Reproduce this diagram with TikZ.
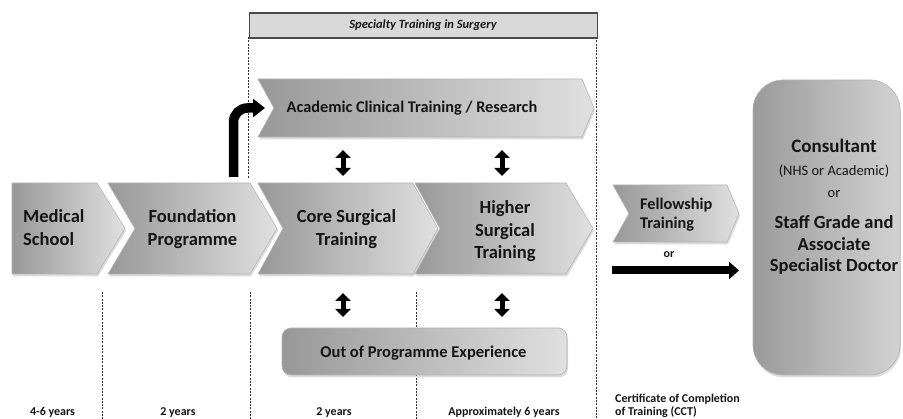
\documentclass[tikz,border=0pt]{standalone}
\usepackage{fontspec}
\setmainfont{Carlito}
\usetikzlibrary{arrows.meta,shadows}

\definecolor{stageDark}{HTML}{989898}
\definecolor{stageLight}{HTML}{E0E0E0}
\definecolor{stageEdge}{HTML}{B4B4B4}
\definecolor{goalDark}{HTML}{9A9A9A}
\definecolor{goalLight}{HTML}{D2D2D2}
\definecolor{headFill}{HTML}{D9D9D9}
\definecolor{headEdge}{HTML}{4A4A4A}
\definecolor{guideGray}{HTML}{333333}
\definecolor{inkText}{HTML}{151515}

\tikzset{
  stageshape/.style={left color=stageDark, right color=stageLight, draw=stageEdge, line width=0.6pt,
    drop shadow={shadow xshift=1pt, shadow yshift=-2.5pt, opacity=0.28}},
  goalshape/.style={left color=goalDark, right color=goalLight, draw=stageEdge, line width=0.6pt,
    drop shadow={shadow xshift=1pt, shadow yshift=-2.5pt, opacity=0.28}},
  guide/.style={draw=guideGray, line width=1pt, dash pattern=on 2pt off 1.3pt},
  bigtxt/.style={font=\bfseries\fontsize{18.5}{22}\selectfont, text=inkText, inner sep=0pt, anchor=base},
  midtxt/.style={font=\bfseries\fontsize{16.3}{19}\selectfont, text=inkText, inner sep=0pt, anchor=base},
  smalltxt/.style={font=\bfseries\fontsize{12}{14}\selectfont, text=inkText, inner sep=0pt, anchor=base},
  plaintxt/.style={font=\fontsize{14.5}{17}\selectfont, text=inkText, inner sep=0pt, anchor=base},
  dblarrow/.style={line width=5pt, {Triangle[width=15pt,length=8pt]}-{Triangle[width=15pt,length=8pt]}},
}

% chevron: left x, body right x, top y, bottom y, notch depth, tip depth
\newcommand{\stagechevron}[6]{%
  \path[stageshape] (#1,#3) -- (#2,#3) -- ({#2+#6},{(#3+#4)/2}) -- (#2,#4) -- (#1,#4) -- ({#1+#5},{(#3+#4)/2}) -- cycle;}

\begin{document}
\begin{tikzpicture}[x=1pt,y=-1pt]
\useasboundingbox (0,0) rectangle (903,419);

% dashed period guides
\draw[guide] (248,37) -- (248,178);
\draw[guide] (596,37) -- (596,419);
\draw[guide] (102,292) -- (102,419);
\draw[guide] (250,292) -- (250,419);
\draw[guide] (416,292) -- (416,419);

% header bar
\node[draw=headEdge, fill=headFill, line width=1.1pt, minimum width=348pt, minimum height=25pt,
      inner sep=0pt, anchor=north west, font=\bfseries\itshape\fontsize{12.5}{15}\selectfont,
      text=inkText] (header) at (248.5,12.5) {Specialty Training in Surgery};

% main training stages
\stagechevron{12}{97}{183}{274}{0}{28}
\stagechevron{108}{250}{183}{274}{27}{27}
\stagechevron{258}{413}{183}{274}{25}{25}
\stagechevron{415}{566}{183}{274}{25}{27}
% academic branch and fellowship
\stagechevron{258}{582}{79}{137}{16}{12}
\stagechevron{613}{727}{185}{242}{16}{12}
% out of programme experience
\path[stageshape, rounded corners=9pt] (282,328) rectangle (567,375);
% career destination
\path[goalshape, rounded corners=30pt] (753,80) rectangle (900,375);

% stage labels
\node[bigtxt, anchor=base west] (med1) at (23,223) {Medical};
\node[bigtxt, anchor=base west] (med2) at (23,246) {School};
\node[bigtxt] (fnd1) at (192.5,223) {Foundation};
\node[bigtxt] (fnd2) at (192.5,246) {Programme};
\node[bigtxt] (core1) at (346.5,223) {Core Surgical};
\node[bigtxt] (core2) at (346.5,246) {Training};
\node[bigtxt] (high1) at (505,214) {Higher};
\node[bigtxt] (high2) at (505,236.5) {Surgical};
\node[bigtxt] (high3) at (505,259) {Training};
\node[midtxt] (acad) at (412,113) {Academic Clinical Training / Research};
\node[midtxt, anchor=base west] (fel1) at (640,210) {Fellowship};
\node[midtxt, anchor=base west] (fel2) at (640,229) {Training};
\node[smalltxt] (felor) at (669,258) {or};
\node[midtxt, font=\bfseries\fontsize{16.5}{19}\selectfont] (oop) at (423.5,358) {Out of Programme Experience};

% destination labels
\node[bigtxt, font=\bfseries\fontsize{19}{22}\selectfont] (cons1) at (834,153) {Consultant};
\node[plaintxt] (cons2) at (834,176) {(NHS or Academic)};
\node[plaintxt] (cons3) at (834,198) {or};
\node[bigtxt] (cons4) at (834,229) {Staff Grade and};
\node[bigtxt] (cons5) at (834,251) {Associate};
\node[bigtxt] (cons6) at (834,272) {Specialist Doctor};

% durations
\node[smalltxt] (dur1) at (52.5,416) {4-6 years};
\node[smalltxt] (dur2) at (178,416) {2 years};
\node[smalltxt] (dur3) at (334,416) {2 years};
\node[smalltxt] (dur4) at (504,416) {Approximately 6 years};
\node[smalltxt, anchor=base west] (cct1) at (615,403) {Certificate of Completion};
\node[smalltxt, anchor=base west] (cct2) at (615,416) {of Training (CCT)};

% connector end points
\coordinate (fndTop) at (233.5,177);
\coordinate (acadIn) at (265,108);
\coordinate (acadLowA) at (343,150);
\coordinate (coreTop) at (343,176);
\coordinate (acadLowB) at (502,150);
\coordinate (highTop) at (502,176);
\coordinate (coreLow) at (343,293);
\coordinate (oopTopA) at (343,317);
\coordinate (highLow) at (502,293);
\coordinate (oopTopB) at (502,317);
\coordinate (cctOut) at (612,270.5);
\coordinate (consIn) at (739,270.5);

% connectors
\draw[line width=9.5pt, rounded corners=14pt, -{Triangle[width=18pt,length=12pt]}] (fndTop) |- (acadIn);
\draw[dblarrow] (acadLowA) -- (coreTop);
\draw[dblarrow] (acadLowB) -- (highTop);
\draw[dblarrow] (coreLow) -- (oopTopA);
\draw[dblarrow] (highLow) -- (oopTopB);
\draw[line width=8pt, -{Triangle[width=17pt,length=10pt]}] (cctOut) -- (consIn);
\end{tikzpicture}
\end{document}
